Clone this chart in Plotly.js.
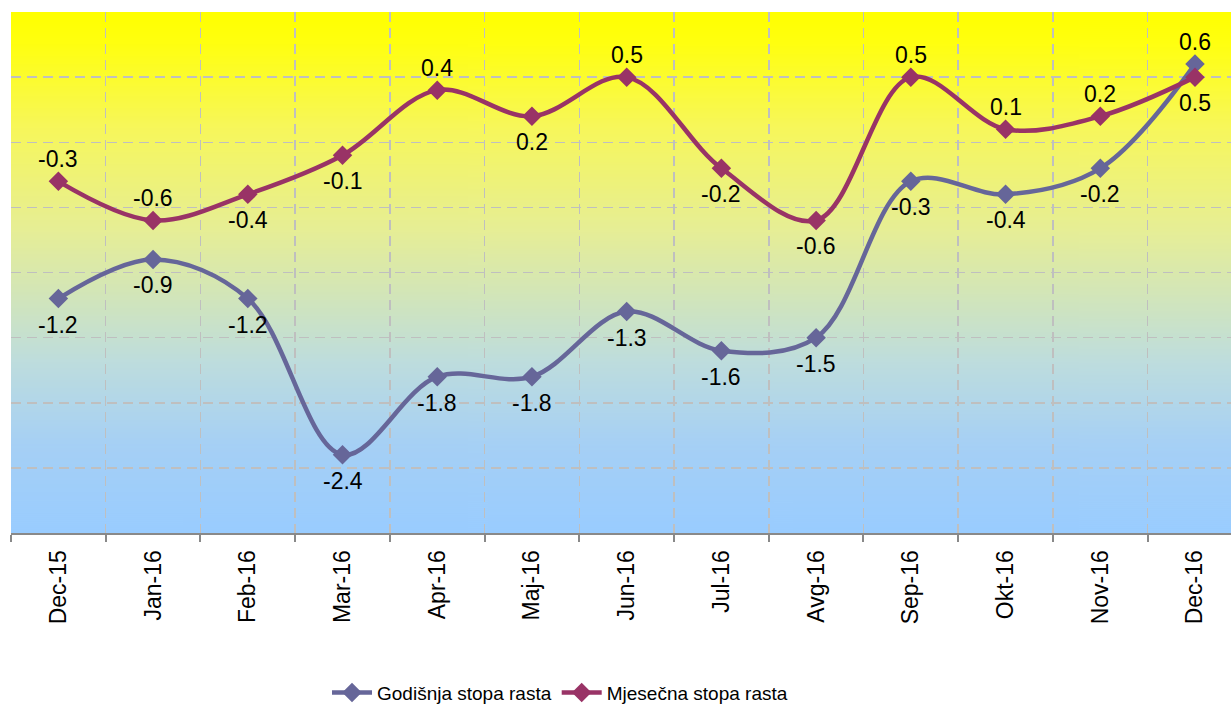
<!DOCTYPE html>
<html>
<head>
<meta charset="utf-8">
<script src="https://cdn.plot.ly/plotly-3.0.1.min.js"></script>
<style>html,body{margin:0;padding:0;background:#fff;overflow:hidden;}</style>
</head>
<body>
<div id="chart" style="width:1231px;height:712px;"></div>
<script>
const categories = ["Dec-15","Jan-16","Feb-16","Mar-16","Apr-16","Maj-16","Jun-16","Jul-16","Avg-16","Sep-16","Okt-16","Nov-16","Dec-16"];
const godisnja = [-1.2,-0.9,-1.2,-2.4,-1.8,-1.8,-1.3,-1.6,-1.5,-0.3,-0.4,-0.2,0.6];
const mjesecna = [-0.3,-0.6,-0.4,-0.1,0.4,0.2,0.5,-0.2,-0.6,0.5,0.1,0.2,0.5];
const seriesNames = ["Godišnja stopa rasta","Mjesečna stopa rasta"];

// label placement (style): 'b' below, 't' above
const godPos = ['b','b','b','b','b','b','b','b','b','b','b','b','t'];
const mjePos = ['t','t','b','b','t','b','t','b','b','t','t','t','b'];

function gradient() {
  const c = document.createElement('canvas');
  c.width = 4; c.height = 520;
  const ctx = c.getContext('2d');
  const g = ctx.createLinearGradient(0,0,0,520);
  g.addColorStop(0,'#FFFF00');
  g.addColorStop(0.06,'#FFFF10');
  g.addColorStop(0.22,'#F7F75A');
  g.addColorStop(0.42,'#E6EE96');
  g.addColorStop(0.67,'#BEDDDD');
  g.addColorStop(0.83,'#A6D0F5');
  g.addColorStop(1,'#99CCFF');
  ctx.fillStyle = g; ctx.fillRect(0,0,4,520);
  return c.toDataURL('image/png');
}

const fmt = v => v.toFixed(1);
const font = "Liberation Sans, Arial, sans-serif";

function labels(vals, pos) {
  return vals.map((v, i) => {
    const p = pos[i];
    return {
      x: categories[i], y: v, xref:'x', yref:'y', text: fmt(v), showarrow:false,
      font:{size:23, family:font, color:'#000'},
      xanchor:'center', yanchor:'middle',
      yshift: p === 't' ? 22 : -26
    };
  });
}

const traces = [
  {
    x: categories, y: godisnja, name: seriesNames[0], type: 'scatter', mode: 'lines+markers',
    line: {color:'#666699', width:4.5, shape:'spline', smoothing:1},
    marker: {symbol:'diamond', size:15, color:'#666699'}, cliponaxis:false
  },
  {
    x: categories, y: mjesecna, name: seriesNames[1], type: 'scatter', mode: 'lines+markers',
    line: {color:'#993366', width:4.5, shape:'spline', smoothing:1},
    marker: {symbol:'diamond', size:15, color:'#993366'}, cliponaxis:false
  }
];

const layout = {
  width:1231, height:712,
  margin:{l:11, r:0, t:12, b:179},
  paper_bgcolor:'#fff', plot_bgcolor:'rgba(0,0,0,0)',
  font:{family:font, color:'#000'},
  showlegend:true,
  legend:{orientation:'h', x:0.45, xanchor:'center', y:-0.343, yanchor:'bottom', font:{size:19, family:font}, bgcolor:'rgba(0,0,0,0)', itemwidth:40},
  xaxis:{
    type:'category', range:[-0.5,12.38], tickson:'boundaries', automargin:false,
    showgrid:true, gridcolor:'#BFBFBF', gridwidth:1.5, griddash:'10px,6px',
    showline:true, linecolor:'#898989', linewidth:2,
    ticks:'outside', ticklen:7, tickcolor:'#898989', tickwidth:2,
    tickangle:-90, tickfont:{size:23, family:font, color:'#000'}, ticklabelstandoff:6,
    zeroline:false, fixedrange:true
  },
  yaxis:{
    range:[-3,1], dtick:0.5, tick0:0, showticklabels:false, automargin:false,
    showgrid:true, gridcolor:'#BFBFBF', gridwidth:1.5, griddash:'10px,6px',
    zeroline:false, showline:false, ticks:'', fixedrange:true
  },
  annotations: labels(godisnja, godPos).concat(labels(mjesecna, mjePos)),
  images:[{source:gradient(), xref:'paper', yref:'paper', x:0, y:1, sizex:1, sizey:1, sizing:'stretch', layer:'below', xanchor:'left', yanchor:'top'}]
};

Plotly.newPlot('chart', traces, layout, {displayModeBar:false, staticPlot:true});
</script>
</body>
</html>
